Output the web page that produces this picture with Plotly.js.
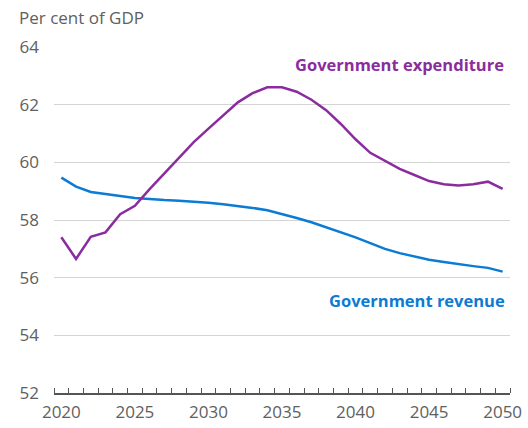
<!DOCTYPE html>
<html>
<head>
<meta charset="utf-8">
<script src="https://cdn.plot.ly/plotly-3.0.1.min.js"></script>
<style>html,body{margin:0;padding:0;background:#fff}#chart{width:528px;height:428px}</style>
</head>
<body>
<div id="chart"></div>
<script>
const years = [];
for (let y = 2020; y <= 2050; y++) years.push(y);

const expenditure = [57.40, 56.65, 57.42, 57.57, 58.20, 58.49, 59.07, 59.62, 60.18, 60.70, 61.17, 61.64, 62.08, 62.40, 62.60, 62.60, 62.45, 62.17, 61.81, 61.33, 60.80, 60.33, 60.05, 59.77, 59.56, 59.35, 59.24, 59.20, 59.24, 59.33, 59.08];
const revenue = [59.47, 59.16, 58.97, 58.89, 58.83, 58.76, 58.72, 58.69, 58.67, 58.64, 58.60, 58.55, 58.49, 58.42, 58.34, 58.21, 58.07, 57.92, 57.75, 57.57, 57.40, 57.20, 57.00, 56.85, 56.73, 56.62, 56.54, 56.46, 56.40, 56.34, 56.21];

const xTicks = [2020, 2025, 2030, 2035, 2040, 2045, 2050];
const yTicks = [52, 54, 56, 58, 60, 62, 64];
const yTitle = 'Per cent of GDP';
const expLabel = 'Government expenditure';
const revLabel = 'Government revenue';

const purple = '#8B2C9E';
const blue = '#0B7BD3';
const font = 'Open Sans, sans-serif';

const data = [
  {x: years, y: revenue, type: 'scatter', mode: 'lines', line: {color: blue, width: 2.5}, hoverinfo: 'skip'},
  {x: years, y: expenditure, type: 'scatter', mode: 'lines', line: {color: purple, width: 2.5}, hoverinfo: 'skip'}
];

const layout = {
  width: 528, height: 428,
  margin: {l: 54, r: 18, t: 47, b: 35},
  paper_bgcolor: '#fff', plot_bgcolor: '#fff',
  showlegend: false,
  font: {family: font, size: 17, color: '#606060'},
  xaxis: {
    range: [2019.5, 2050.5],
    tickvals: xTicks, ticktext: xTicks.map(String),
    ticks: '', showgrid: false, zeroline: false,
    showline: true, linecolor: '#555', linewidth: 1.5,
    ticklabelstandoff: 3,
    tickfont: {family: font, size: 17, color: '#606060'},
    minor: {tick0: 2019.5, dtick: 1, ticks: 'inside', ticklen: 5, tickcolor: '#555', tickwidth: 1, showgrid: false},
    fixedrange: true
  },
  yaxis: {
    range: [52, 64],
    tickvals: yTicks, ticktext: yTicks.map(String),
    ticks: '', showgrid: true, gridcolor: '#d4d4d4', gridwidth: 1,
    zeroline: false, showline: false,
    ticklabelstandoff: 14,
    tickfont: {family: font, size: 17, color: '#606060'},
    fixedrange: true
  },
  annotations: [
    {xref: 'paper', yref: 'paper', x: -54/456, y: 1, yshift: 30, xshift: 17, xanchor: 'left', yanchor: 'middle', text: yTitle, showarrow: false, font: {family: font, size: 17, color: '#606060'}},
    {xref: 'x', yref: 'y', x: 2050.2, y: 63.4, xanchor: 'right', yanchor: 'middle', text: '<b>' + expLabel + '</b>', showarrow: false, font: {family: font, size: 16.5, color: purple}},
    {xref: 'x', yref: 'y', x: 2050.3, y: 55.2, xanchor: 'right', yanchor: 'middle', text: '<b>' + revLabel + '</b>', showarrow: false, font: {family: font, size: 16.5, color: blue}}
  ]
};

Plotly.newPlot('chart', data, layout, {displayModeBar: false, staticPlot: true});
</script>
</body>
</html>
